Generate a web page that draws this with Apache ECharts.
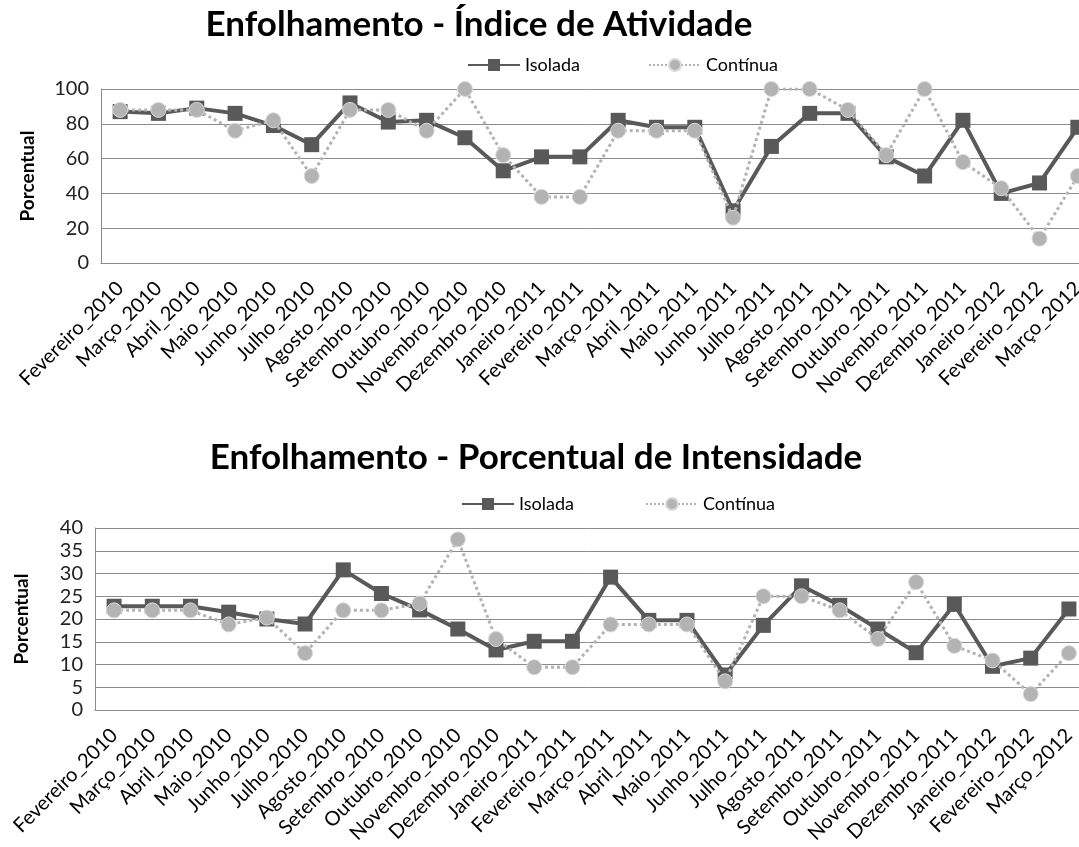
<!DOCTYPE html>
<html>
	<head>
		<meta charset="utf-8">
		<title>Enfolhamento</title>
		<style>
		html,body { height:100%; width:100%; margin:0; padding:0; background:#fff; }
		</style>
		<script src="https://cdn.jsdelivr.net/npm/echarts@6/dist/echarts.min.js"></script>
	</head>
	<body>
		<div id="main" style="width:1079px;height:847px;"></div>
		<script type="text/javascript">
			// meses
			var meses = ['Fevereiro_2010','Março_2010','Abril_2010','Maio_2010','Junho_2010','Julho_2010',
				'Agosto_2010','Setembro_2010','Outubro_2010','Novembro_2010','Dezembro_2010','Janeiro_2011',
				'Fevereiro_2011','Março_2011','Abril_2011','Maio_2011','Junho_2011','Julho_2011','Agosto_2011',
				'Setembro_2011','Outubro_2011','Novembro_2011','Dezembro_2011','Janeiro_2012','Fevereiro_2012','Março_2012'];

			// Índice de Atividade
			var atividadeIsolada = [87, 86, 89, 86, 79, 68, 92, 81, 82, 72, 53, 61, 61, 82, 78, 78, 30, 67, 86, 86, 61, 50, 82, 40, 46, 78];
			var atividadeContinua = [88, 88, 88, 76, 82, 50, 88, 88, 76, 100, 62, 38, 38, 76, 76, 76, 26, 100, 100, 88, 62, 100, 58, 43, 14, 50];

			// Porcentual de Intensidade
			var intensIsolada = [22.8, 22.8, 22.8, 21.5, 20, 18.9, 30.8, 25.6, 22, 17.8, 13.2, 15.1, 15.1, 29.2, 19.7, 19.7, 7.7, 18.6, 27.3, 23, 17.8, 12.6, 23.2, 9.6, 11.4, 22.2];
			var intensContinua = [21.9, 21.9, 21.9, 18.8, 20.3, 12.5, 21.9, 21.9, 23.4, 37.5, 15.6, 9.4, 9.4, 18.8, 18.8, 18.8, 6.3, 25, 25, 21.9, 15.6, 28.1, 14.1, 10.9, 3.5, 12.5];

			var FONT = 'Lato';
			var escuro = '#595959';
			var claro = '#b3b3b3';
			var grade = '#8c8c8c';

			function eixoX(idx) {
				return {
					type: 'category', gridIndex: idx, data: meses, boundaryGap: true,
					axisLine: { lineStyle: { color: grade } },
					axisTick: { show: false },
					axisLabel: { rotate: 45, interval: 0, color: '#000', fontFamily: FONT, fontSize: 20, margin: 22 }
				};
			}
			function eixoY(idx, max, step) {
				return {
					type: 'value', gridIndex: idx, min: 0, max: max, interval: step,
					name: 'Porcentual', nameLocation: 'middle', nameRotate: 90, nameGap: 64,
					nameTextStyle: { fontFamily: FONT, fontWeight: 'bold', fontSize: 19, color: '#000' },
					axisLine: { show: true, lineStyle: { color: grade } },
					axisTick: { show: false },
					axisLabel: { color: '#222', fontFamily: FONT, fontSize: 20, margin: 12 },
					splitLine: { lineStyle: { color: grade, width: 1 } }
				};
			}
			function isolada(idx, dados) {
				return {
					name: 'Isolada', type: 'line', xAxisIndex: idx, yAxisIndex: idx, data: dados,
					symbol: 'rect', symbolSize: 15, color: escuro,
					lineStyle: { color: escuro, width: 4 },
					itemStyle: { color: escuro }, z: 2
				};
			}
			function continua(idx, dados) {
				return {
					name: 'Contínua', type: 'line', xAxisIndex: idx, yAxisIndex: idx, data: dados,
					symbol: 'circle', symbolSize: 15, color: claro,
					lineStyle: { color: claro, width: 3, type: 'dotted' },
					itemStyle: { color: claro, borderColor: '#d9d9d9', borderWidth: 1 }, z: 3
				};
			}
			function legenda(esq, topo, gap) {
				return {
					left: esq, top: topo, itemWidth: 52, itemHeight: 15, itemGap: gap,
					textStyle: { fontFamily: FONT, fontSize: 18, color: '#000' },
					data: ['Isolada', 'Contínua']
				};
			}

			var myChart = echarts.init(document.getElementById('main'));
			var option = {
				backgroundColor: '#fff',
				animation: false,
				title: [{
					text: 'Enfolhamento - Índice de Atividade', left: 474, top: 2, textAlign: 'center',
					textStyle: { fontFamily: FONT, fontWeight: 'bold', fontSize: 35, color: '#000' }
				}, {
					text: 'Enfolhamento - Porcentual de Intensidade', left: 531, top: 435, textAlign: 'center',
					textStyle: { fontFamily: FONT, fontWeight: 'bold', fontSize: 35, color: '#000' }
				}],
				legend: [legenda(462, 51, 68), legenda(456, 490, 71)],
				grid: [
					{ left: 101, top: 89, width: 996, height: 174, outerBoundsMode: 'none' },
					{ left: 95, top: 528, width: 993, height: 182, outerBoundsMode: 'none' }
				],
				xAxis: [eixoX(0), eixoX(1)],
				yAxis: [eixoY(0, 100, 20), eixoY(1, 40, 5)],
				series: [
					isolada(0, atividadeIsolada),
					continua(0, atividadeContinua),
					isolada(1, intensIsolada),
					continua(1, intensContinua)
				]
			};
			myChart.setOption(option);
		</script>
	</body>
</html>
